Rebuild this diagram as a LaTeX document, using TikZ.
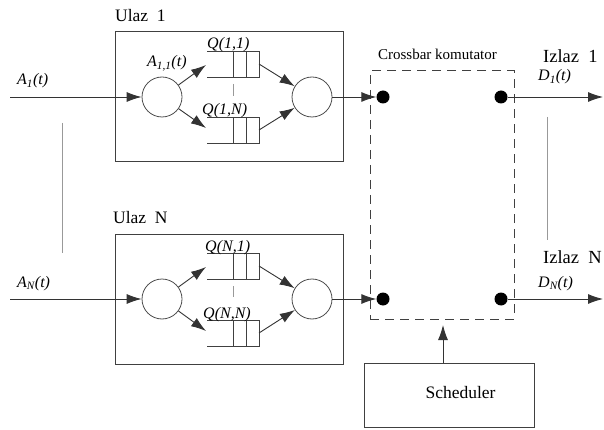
\documentclass[tikz,border=0pt]{standalone}
\usepackage{fontspec}
\setmainfont{Liberation Serif}
\usetikzlibrary{arrows.meta}
\begin{document}
\begin{tikzpicture}[x=1pt,y=-1pt,
  ln/.style={draw=black!80,line width=0.9pt},
  arr/.style={ln,-{Latex[length=15pt,width=10pt]}},
  ring/.style={circle,draw=black!70,line width=0.8pt,minimum size=40pt,inner sep=0pt},
  dotnode/.style={circle,fill=black,minimum size=13pt,inner sep=0pt},
  thinline/.style={draw=black!40,line width=0.6pt},
  qline/.style={draw=black!75,line width=0.9pt},
  ubox/.style={draw=black!75,line width=1pt,minimum width=228pt,minimum height=130pt,inner sep=0pt},
  lab/.style={font=\fontsize{16}{16}\selectfont\itshape,inner sep=0pt,anchor=base west},
  big/.style={font=\fontsize{17.5}{17.5}\selectfont,inner sep=0pt,anchor=base west},
  bigger/.style={font=\fontsize{18.5}{18.5}\selectfont,inner sep=0pt,anchor=base west},
  pics/queue/.style={code={
    \draw[qline] (0,0) -- (52,0) -- (52,26) -- (0,26);
    \draw[qline] (26,0) -- (26,26) (39,0) -- (39,26);
  }}
]
\useasboundingbox (0,0) rectangle (604,430);

% ---------- input blocks ----------
\node[ubox] (u1box) at (229,97) {};
\node[ubox] (uNbox) at (229,299) {};
\node[big] (u1lab) at (115,22) {Ulaz\ \ 1};
\node[big] (uNlab) at (113,223) {Ulaz\ \ N};

% circles
\node[ring] (in1) at (162,97) {};
\node[ring] (out1) at (312,97) {};
\node[ring] (inN) at (162,299) {};
\node[ring] (outN) at (312,299) {};

% queues
\pic at (207,51) {queue};
\pic at (207,117) {queue};
\pic at (207,253) {queue};
\pic at (207,320) {queue};

\coordinate (q11i) at (206,65);
\coordinate (q1Ni) at (206,128);
\coordinate (qN1i) at (206,267);
\coordinate (qNNi) at (206,331);
\coordinate (q11o) at (259,64);
\coordinate (q1No) at (259,130);
\coordinate (qN1o) at (259,266);
\coordinate (qNNo) at (259,333);

\draw[arr] (in1) -- (q11i);
\draw[arr] (in1) -- (q1Ni);
\draw[arr] (inN) -- (qN1i);
\draw[arr] (inN) -- (qNNi);
\draw[arr] (q11o) -- (out1);
\draw[arr] (q1No) -- (out1);
\draw[arr] (qN1o) -- (outN);
\draw[arr] (qNNo) -- (outN);

% small ticks between queues
\draw[thinline] (233,84) -- (233,96);
\draw[thinline] (233,286) -- (233,297);

% queue labels
\node[lab] (l11) at (207,49) {Q(1,1)};
\node[lab] (l1N) at (202,115) {Q(1,N)};
\node[lab] (lN1) at (205,251) {Q(N,1)};
\node[lab] (lNN) at (203,318) {Q(N,N)};
\node[lab] (a11) at (147,67) {A\textsubscript{1,1}(t)};

% inputs
\coordinate (a1s) at (10,97);
\coordinate (aNs) at (10,299);
\draw[arr] (a1s) -- (in1);
\draw[arr] (aNs) -- (inN);
\node[lab] (a1lab) at (17,85) {A\textsubscript{1}(t)};
\node[lab] (aNlab) at (17,287) {A\textsubscript{N}(t)};

% ---------- crossbar ----------
\node[draw=black!75,line width=1pt,dash pattern=on 9pt off 6pt,minimum width=144pt,minimum height=248pt,inner sep=0pt] (xbar) at (442,195) {};
\node[font=\fontsize{15}{15}\selectfont,inner sep=0pt] (xlab) at (437.5,54) {Crossbar komutator};

\node[dotnode] (d1L) at (383,97) {};
\node[dotnode] (d1R) at (501,97) {};
\node[dotnode] (dNL) at (383,299) {};
\node[dotnode] (dNR) at (501,299) {};

\draw[arr] (out1) -- (d1L);
\draw[arr] (outN) -- (dNL);

\coordinate (o1) at (603,97);
\coordinate (oN) at (603,299);
\draw[arr] (d1R) -- (o1);
\draw[arr] (dNR) -- (oN);

\node[bigger] (iz1) at (543,63) {Izlaz\ \ 1};
\node[bigger] (izN) at (543,263) {Izlaz\ \ N};
\node[lab] (d1lab) at (538,81) {D\textsubscript{1}(t)};
\node[lab] (dNlab) at (538,287) {D\textsubscript{N}(t)};

% ---------- scheduler ----------
\node[draw=black!75,line width=1pt,minimum width=170pt,minimum height=64pt,inner sep=0pt] (sched) at (449,395) {};
\node[font=\fontsize{17.5}{17.5}\selectfont,inner sep=0pt] (schedlab) at (460.5,393) {Scheduler};
\coordinate (sa) at (443,325);
\draw[arr] (sa |- sched.north) -- (sa);

% ---------- vertical guide lines ----------
\draw[thinline] (62,123) -- (62,253);
\draw[thinline] (547,117) -- (547,240);
\end{tikzpicture}
\end{document}
